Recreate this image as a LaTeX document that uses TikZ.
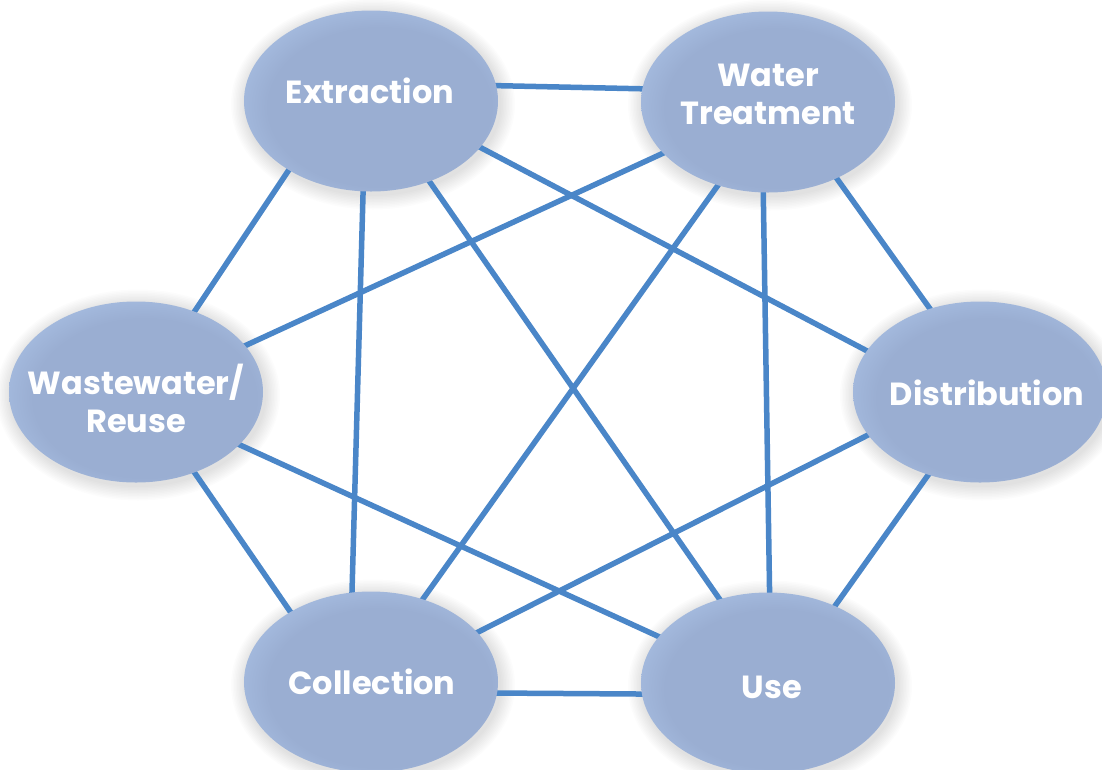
\documentclass[tikz,border=0pt]{standalone}
\usepackage{fontspec}
\setmainfont{Poppins}
\usetikzlibrary{shapes.geometric}
\pgfdeclarelayer{bg}\pgfdeclarelayer{shadow}\pgfdeclarelayer{lines}
\pgfsetlayers{bg,shadow,lines,main}
\definecolor{ellE}{HTML}{9AAED2}
\definecolor{ellL}{HTML}{A8BFE3}
\definecolor{edgeC}{HTML}{4A86C8}
\pgfdeclareradialshading{ellshade}{\pgfpoint{3bp}{-3bp}}{color(0bp)=(ellE); color(22bp)=(ellE); color(30bp)=(ellL); color(50bp)=(ellL)}
\begin{document}
\begin{tikzpicture}[x=1pt,y=-1pt,
  stage/.style={ellipse, minimum width=254pt, minimum height=181pt, inner sep=0pt, outer sep=0pt, shade, shading=ellshade},
  lab/.style={text=white, font=\fontsize{32}{38}\selectfont\bfseries, align=center, inner sep=0pt},
  link/.style={draw=edgeC, line width=5.5pt, shorten <=-4pt, shorten >=-4pt}]
\useasboundingbox (0,0) rectangle (1102,769);
\begin{pgfonlayer}{bg}
\fill[white] (0,0) rectangle (1102,769);
\end{pgfonlayer}
\coordinate (pExt) at (371,101);
\coordinate (pWt) at (768,102);
\coordinate (pWs) at (136,392);
\coordinate (pDis) at (980,392);
\coordinate (pCol) at (371,682);
\coordinate (pUse) at (768,683);
\begin{pgfonlayer}{shadow}
\foreach \n in {pExt,pWt,pWs,pDis,pCol,pUse}{
  \foreach \k in {1,...,10}{
    \fill[black,opacity=0.012] ([shift={(2,3)}]\n) ellipse [x radius=127+\k*1.5, y radius=90.5+\k*1.5];
  }
}
\end{pgfonlayer}
\node[stage] (ext) at (pExt) {};
\node[stage] (wt) at (pWt) {};
\node[stage] (ws) at (pWs) {};
\node[stage] (dis) at (pDis) {};
\node[stage] (col) at (pCol) {};
\node[stage] (use) at (pUse) {};
\node[lab] (extT) at (370,91) {Extraction};
\node[lab] (wtT) at (768,94) {Water\\Treatment};
\node[lab] (wsT) at (136,398) {Wastewater/\\Reuse};
\node[lab] (disT) at (987,393) {Distribution};
\node[lab] (colT) at (372,682) {Collection};
\node[lab] (useT) at (772,687) {Use};
\begin{pgfonlayer}{lines}
\draw[link] (ext.7) -- (wt.174);
\draw[link] (ext.220) -- (ws.54);
\draw[link] (ext.265) -- (col.102);
\draw[link] (ext.306) -- (use.120);
\draw[link] (ext.337) -- (dis.160);
\draw[link] (wt.206) -- (ws.23);
\draw[link] (wt.239) -- (col.58);
\draw[link] (wt.267.5) -- (use.89.4);
\draw[link] (wt.312) -- (dis.121);
\draw[link] (ws.306) -- (col.139);
\draw[link] (ws.333) -- (use.157);
\draw[link] (dis.201) -- (col.25);
\draw[link] (dis.238) -- (use.49);
\draw[link] (col.355) -- (use.185);
\end{pgfonlayer}
\end{tikzpicture}
\end{document}
